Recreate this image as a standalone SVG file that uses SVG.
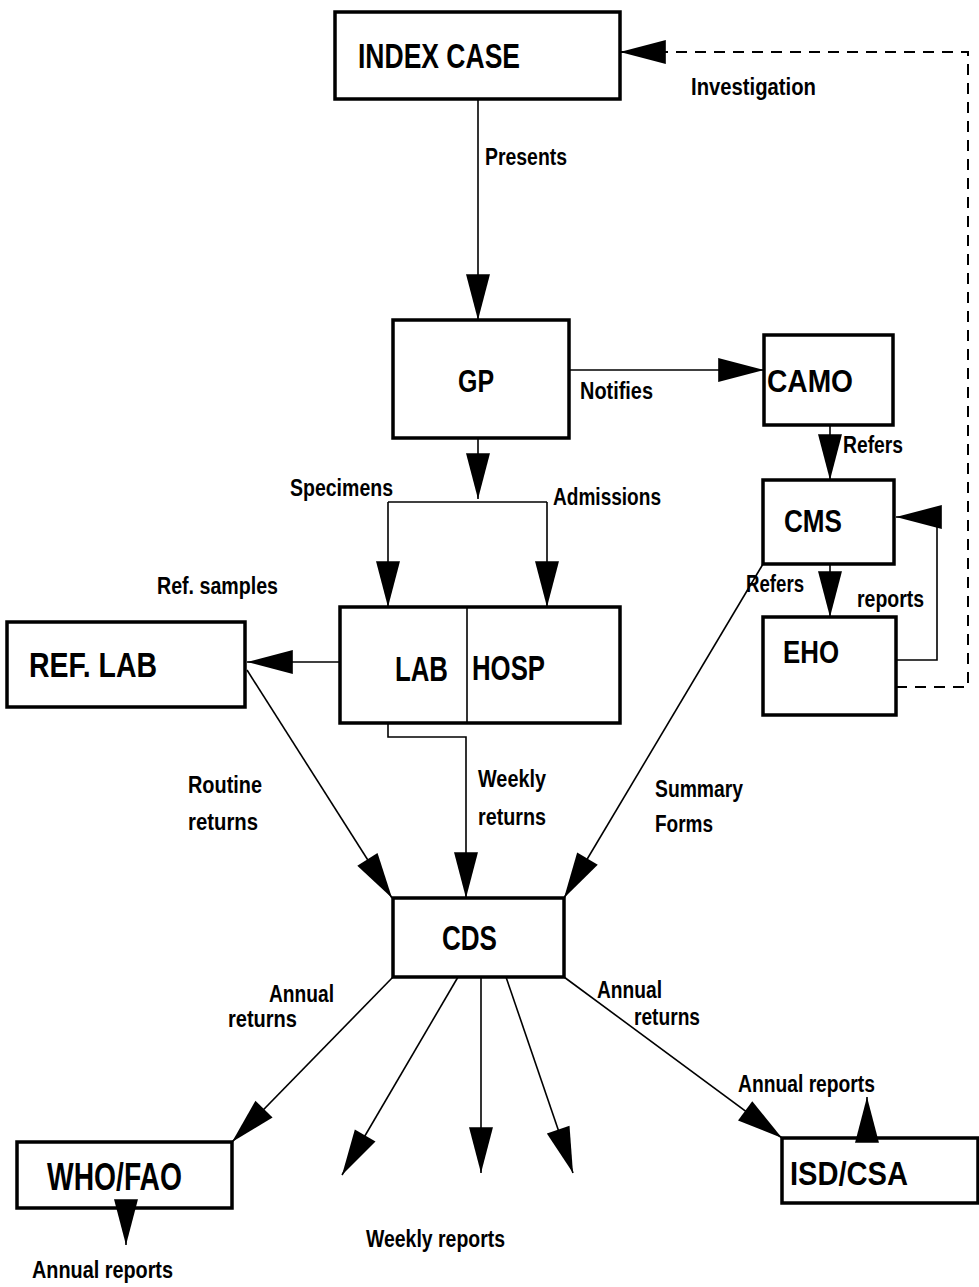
<svg xmlns="http://www.w3.org/2000/svg" width="979" height="1287" viewBox="0 0 979 1287">
<style>
.box{fill:#fff;stroke:#000;stroke-width:3.5}
.node{font-family:"Liberation Sans",Arial,sans-serif;font-weight:bold;fill:#000}
.lbl{font-family:"Liberation Sans",Arial,sans-serif;font-weight:bold;font-size:23px;fill:#000}
.c{fill:none;stroke:#000;stroke-width:1.6}
.dash{fill:none;stroke:#000;stroke-width:2;stroke-dasharray:11 8}
</style>
<defs>
<marker id="ah" markerUnits="userSpaceOnUse" markerWidth="50" markerHeight="30" viewBox="-46 -13 48 26" refX="0" refY="0" orient="auto" overflow="visible">
<path d="M0,0 L-44,-11.5 L-44,11.5 Z" fill="#000"/>
</marker>
</defs>
<rect width="979" height="1287" fill="#fff"/>
<g id="connectors">
<path class="c" d="M478,99 L478,320" marker-end="url(#ah)"/>
<path class="c" d="M569,370 L764,370" marker-end="url(#ah)"/>
<path class="c" d="M830,425 L830,480" marker-end="url(#ah)"/>
<path class="c" d="M830,564 L830,617" marker-end="url(#ah)"/>
<path class="c" d="M896,660 L937,660 L937,517 L896,517" marker-end="url(#ah)"/>
<path class="dash" d="M896,687 L968,687 L968,52 L620,52" marker-end="url(#ah)"/>
<path class="c" d="M478,438 L478,499" marker-end="url(#ah)"/>
<path class="c" d="M388,502 L547,502"/>
<path class="c" d="M388,502 L388,607" marker-end="url(#ah)"/>
<path class="c" d="M547,502 L547,607" marker-end="url(#ah)"/>
<path class="c" d="M340,662 L247,662" marker-end="url(#ah)"/>
<path class="c" d="M247,670 L392,898" marker-end="url(#ah)"/>
<path class="c" d="M388,723 L388,737 L466,737 L466,898" marker-end="url(#ah)"/>
<path class="c" d="M763,564 L564,898" marker-end="url(#ah)"/>
<path class="c" d="M393,977 L232,1142" marker-end="url(#ah)"/>
<path class="c" d="M458,977 L342,1175" marker-end="url(#ah)"/>
<path class="c" d="M481,977 L481,1173" marker-end="url(#ah)"/>
<path class="c" d="M506,977 L573,1173" marker-end="url(#ah)"/>
<path class="c" d="M564,977 L782,1138" marker-end="url(#ah)"/>
</g>
<g id="index-case">
<rect class="box" x="335" y="12" width="285" height="87"/>
<text class="node" x="358" y="68" font-size="35" textLength="162" lengthAdjust="spacingAndGlyphs">INDEX CASE</text>
</g>
<g id="gp">
<rect class="box" x="393" y="320" width="176" height="118"/>
<text class="node" x="458" y="392" font-size="31" textLength="36" lengthAdjust="spacingAndGlyphs">GP</text>
</g>
<g id="camo">
<rect class="box" x="764" y="335" width="129" height="90"/>
<text class="node" x="767" y="392" font-size="31" textLength="86" lengthAdjust="spacingAndGlyphs">CAMO</text>
</g>
<g id="cms">
<rect class="box" x="763" y="480" width="131" height="84"/>
<text class="node" x="784" y="532" font-size="32" textLength="58" lengthAdjust="spacingAndGlyphs">CMS</text>
</g>
<g id="eho">
<rect class="box" x="763" y="617" width="133" height="98"/>
<text class="node" x="783" y="663" font-size="32" textLength="56" lengthAdjust="spacingAndGlyphs">EHO</text>
</g>
<g id="lab-hosp">
<rect class="box" x="340" y="607" width="280" height="116"/>
<line x1="467" y1="607" x2="467" y2="723" stroke="#000" stroke-width="1.6"/>
<text class="node" x="395" y="681" font-size="35" textLength="53" lengthAdjust="spacingAndGlyphs">LAB</text>
<text class="node" x="472" y="680" font-size="35" textLength="73" lengthAdjust="spacingAndGlyphs">HOSP</text>
</g>
<g id="ref-lab">
<rect class="box" x="7" y="622" width="238" height="85"/>
<text class="node" x="29" y="677" font-size="35" textLength="128" lengthAdjust="spacingAndGlyphs">REF. LAB</text>
</g>
<g id="cds">
<rect class="box" x="393" y="898" width="171" height="79"/>
<text class="node" x="442" y="950" font-size="35" textLength="55" lengthAdjust="spacingAndGlyphs">CDS</text>
</g>
<g id="who-fao">
<rect class="box" x="17" y="1142" width="215" height="66"/>
<text class="node" x="47" y="1190" font-size="38" textLength="135" lengthAdjust="spacingAndGlyphs">WHO/FAO</text>
<path class="c" d="M126,1201 L126,1245" marker-end="url(#ah)"/>
</g>
<g id="isd-csa">
<rect class="box" x="782" y="1138" width="196" height="65"/>
<text class="node" x="790" y="1185" font-size="33" textLength="118" lengthAdjust="spacingAndGlyphs">ISD/CSA</text>
<path class="c" d="M867,1140 L867,1097" marker-end="url(#ah)"/>
</g>
<g id="labels">
<text class="lbl" x="485" y="165" textLength="82" lengthAdjust="spacingAndGlyphs">Presents</text>
<text class="lbl" x="691" y="95" textLength="125" lengthAdjust="spacingAndGlyphs">Investigation</text>
<text class="lbl" x="580" y="399" textLength="73" lengthAdjust="spacingAndGlyphs">Notifies</text>
<text class="lbl" x="843" y="453" textLength="60" lengthAdjust="spacingAndGlyphs">Refers</text>
<text class="lbl" x="290" y="496" textLength="103" lengthAdjust="spacingAndGlyphs">Specimens</text>
<text class="lbl" x="553" y="505" textLength="108" lengthAdjust="spacingAndGlyphs">Admissions</text>
<text class="lbl" x="746" y="592" textLength="58" lengthAdjust="spacingAndGlyphs">Refers</text>
<text class="lbl" x="857" y="607" textLength="67" lengthAdjust="spacingAndGlyphs">reports</text>
<text class="lbl" x="157" y="594" textLength="121" lengthAdjust="spacingAndGlyphs">Ref. samples</text>
<text class="lbl" x="188" y="793" textLength="74" lengthAdjust="spacingAndGlyphs">Routine</text>
<text class="lbl" x="188" y="830" textLength="70" lengthAdjust="spacingAndGlyphs">returns</text>
<text class="lbl" x="478" y="787" textLength="68" lengthAdjust="spacingAndGlyphs">Weekly</text>
<text class="lbl" x="478" y="825" textLength="68" lengthAdjust="spacingAndGlyphs">returns</text>
<text class="lbl" x="655" y="797" textLength="88" lengthAdjust="spacingAndGlyphs">Summary</text>
<text class="lbl" x="655" y="832" textLength="58" lengthAdjust="spacingAndGlyphs">Forms</text>
<text class="lbl" x="269" y="1002" textLength="65" lengthAdjust="spacingAndGlyphs">Annual</text>
<text class="lbl" x="228" y="1027" textLength="69" lengthAdjust="spacingAndGlyphs">returns</text>
<text class="lbl" x="597" y="998" textLength="65" lengthAdjust="spacingAndGlyphs">Annual</text>
<text class="lbl" x="634" y="1025" textLength="66" lengthAdjust="spacingAndGlyphs">returns</text>
<text class="lbl" x="738" y="1092" textLength="137" lengthAdjust="spacingAndGlyphs">Annual reports</text>
<text class="lbl" x="366" y="1247" textLength="139" lengthAdjust="spacingAndGlyphs">Weekly reports</text>
<text class="lbl" x="32" y="1278" textLength="141" lengthAdjust="spacingAndGlyphs">Annual reports</text>
</g>
</svg>
